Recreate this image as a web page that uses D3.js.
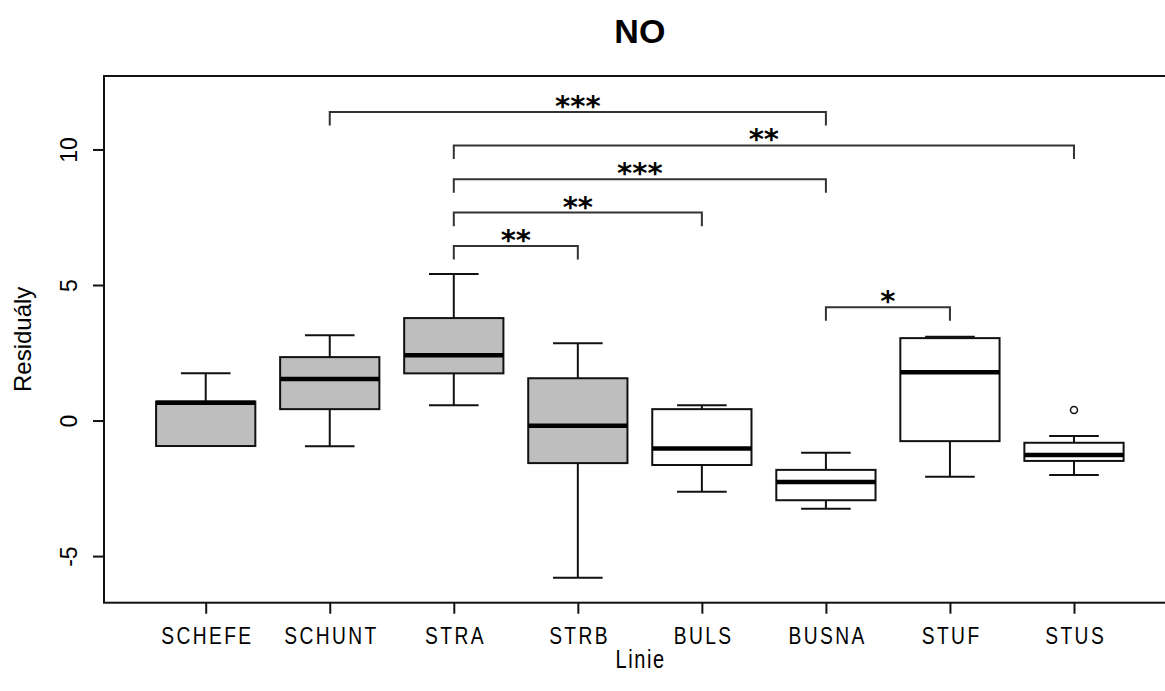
<!DOCTYPE html>
<html><head><meta charset="UTF-8">
<script src="https://d3js.org/d3.v7.min.js"></script>
<style>
  body { margin: 0; background: #fff; }
  text { font-family: "Liberation Sans", Arial, sans-serif; }
</style>
</head>
<body>
<script>
// group names (x axis categories)
const lines = ["SCHEFE", "SCHUNT", "STRA", "STRB", "BULS", "BUSNA", "STUF", "STUS"];
// five-number summaries
const whiskLow = [-0.94, -0.95, 0.56, -5.80, -2.63, -3.25, -2.07, -2.01];
const q1       = [-0.94,  0.42, 1.74, -1.57, -1.64, -2.94, -0.76, -1.49];
const median   = [ 0.66,  1.53, 2.41, -0.19, -1.03, -2.27,  1.78, -1.27];
const q3       = [ 0.70,  2.34, 3.78,  1.56,  0.42, -1.82,  3.04, -0.82];
const whiskHigh= [ 1.74,  3.15, 5.41,  2.85,  0.56, -1.19,  3.09, -0.57];
const boxFill  = ["#bebebe", "#bebebe", "#bebebe", "#bebebe", "#ffffff", "#ffffff", "#ffffff", "#ffffff"];
// outliers: [group index, value]
const outliers = [[8, 0.39]];
// significance brackets
const brFrom  = [2, 3, 3, 3, 3, 6];
const brTo    = [6, 8, 6, 5, 4, 7];
const brLevel = [11.38, 10.15, 8.9, 7.67, 6.44, 4.18];
const brLabel = ["***", "**", "***", "**", "**", "*"];
const yTicks = [-5, 0, 5, 10];

const W = 1165, H = 691;
const svg = d3.select("body").append("svg").attr("width", W).attr("height", H);

let x = d3.scaleLinear().domain([0.18, 8.82]).range([104, 1175.7]);
let y = d3.scaleLinear().domain([-6.72, 12.71]).range([602.7, 76]);
const half = (x(1) - x(0)) * 0.4;   // boxwex 0.8
const cap = half / 2;

// title
svg.append("text")
    .attr("x", (x(0.18) + x(8.82)) / 2).attr("y", 43)
    .attr("text-anchor", "middle")
    .style("font-weight", "bold").style("font-size", "34px")
    .text("NO");

// boxes
const g = svg.append("g");
lines.forEach(function (name, i) {
    let cx = x(i + 1);
    // whiskers
    g.append("line").attr("x1", cx).attr("x2", cx).attr("y1", y(q3[i])).attr("y2", y(whiskHigh[i]))
        .attr("stroke", "#111").attr("stroke-width", 2);
    g.append("line").attr("x1", cx).attr("x2", cx).attr("y1", y(q1[i])).attr("y2", y(whiskLow[i]))
        .attr("stroke", "#111").attr("stroke-width", 2);
    // staples
    [whiskHigh[i], whiskLow[i]].forEach(function (v) {
        g.append("line").attr("x1", cx - cap).attr("x2", cx + cap).attr("y1", y(v)).attr("y2", y(v))
            .attr("stroke", "#111").attr("stroke-width", 2);
    });
    // box
    g.append("rect")
        .attr("x", cx - half).attr("width", 2 * half)
        .attr("y", y(q3[i])).attr("height", y(q1[i]) - y(q3[i]))
        .attr("fill", boxFill[i]).attr("stroke", "#111").attr("stroke-width", 2);
    // median
    g.append("line").attr("x1", cx - half).attr("x2", cx + half)
        .attr("y1", y(median[i])).attr("y2", y(median[i]))
        .attr("stroke", "#000").attr("stroke-width", 4.5);
});

// outliers
g.selectAll("circle.out").data(outliers).enter().append("circle")
    .attr("cx", d => x(d[0])).attr("cy", d => y(d[1])).attr("r", 3.5)
    .attr("fill", "none").attr("stroke", "#111").attr("stroke-width", 1.5);

// brackets
brFrom.forEach(function (a, k) {
    let x1 = x(a), x2 = x(brTo[k]), yy = y(brLevel[k]), yl = y(brLevel[k] - 0.5);
    svg.append("path")
        .attr("d", `M${x1},${yl}V${yy}H${x2}V${yl}`)
        .attr("fill", "none").attr("stroke", "#333").attr("stroke-width", 2);
    svg.append("text")
        .attr("x", (x1 + x2) / 2).attr("y", yy + 4)
        .attr("text-anchor", "middle")
        .style("font-family", "DejaVu Sans").style("font-weight", "bold").style("font-size", "29px")
        .text(brLabel[k]);
});

// plot frame (right edge falls outside the picture)
svg.append("rect")
    .attr("x", x(0.18)).attr("y", y(12.71))
    .attr("width", x(8.82) - x(0.18)).attr("height", y(-6.72) - y(12.71))
    .attr("fill", "none").attr("stroke", "#111").attr("stroke-width", 2);

// x axis - narrow spaced lettering like the original
let xAxis = svg.append("g").attr("transform", `translate(0,${y(-6.72)})`)
    .call(d3.axisBottom(x).tickValues(d3.range(1, 9)).tickFormat(i => lines[i - 1])
        .tickSize(11).tickPadding(13));
xAxis.select(".domain").remove();
xAxis.selectAll("line").attr("stroke", "#111").attr("stroke-width", 2);
xAxis.selectAll("text")
    .attr("transform", "scale(0.8,1)")
    .attr("dx", 1.5)
    .style("letter-spacing", "3px")
    .style("font-size", "24px").attr("fill", "#000");

// y axis
let yAxis = svg.append("g").attr("transform", `translate(${x(0.18)},0)`)
    .call(d3.axisLeft(y).tickValues(yTicks).tickSize(11).tickFormat(d => String(d)));
yAxis.select(".domain").remove();
yAxis.selectAll("line").attr("stroke", "#111").attr("stroke-width", 2);
yAxis.selectAll("text")
    .attr("transform", "rotate(-90)")
    .attr("x", 0).attr("y", -27).attr("dy", 0)
    .attr("text-anchor", "middle")
    .style("font-size", "23px").attr("fill", "#000");

// axis titles
svg.append("text")
    .attr("transform", `translate(${(x(0.18) + x(8.82)) / 2},668) scale(0.8,1)`)
    .attr("text-anchor", "middle").style("font-size", "25px")
    .style("letter-spacing", "2px").attr("dx", 1)
    .text("Linie");
svg.append("text")
    .attr("transform", `translate(31,${(y(-6.72) + y(12.71)) / 2}) rotate(-90)`)
    .attr("text-anchor", "middle").style("font-size", "24px")
    .text("Residuály");
</script>
</body>
</html>
